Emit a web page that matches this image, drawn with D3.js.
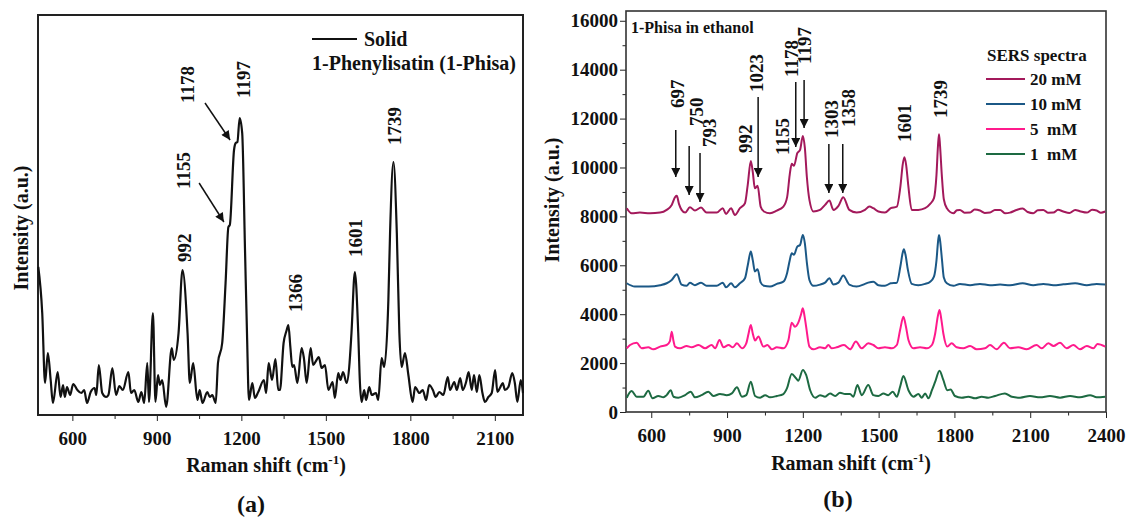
<!DOCTYPE html>
<meta charset="utf-8">
<title>Raman and SERS spectra of 1-Phisa</title>
<script src="https://cdn.jsdelivr.net/npm/d3@7"></script>
<style>
body { margin: 0; background: #fff; }
svg { display: block; }
text { font-family: "Liberation Serif", "Times New Roman", serif; font-weight: bold; fill: #111; }
.axis path, .axis line { stroke: #222; }
.axis text { font-size: 19px; }
</style>
<svg width="1126" height="518"></svg>
<script>
// ---- data ----
// (a) solid Raman spectrum: [shift cm-1, intensity a.u.]
var solid = [[479,37],[493,25.5],[503,8],[513,15.5],[523,8.75],[531,3],[548,10.75],[558,4.5],[567,7.5],[573,4.5],[581,7],[592,5],[603,7.75],[618,6.25],[632,5.5],[642,6.25],[652,3],[665,5.75],[679,6.75],[685,5],[694,12.5],[706,5.5],[720,4.5],[728,5],[742,11.75],[755,5],[767,7.25],[779,6.25],[799,10.75],[808,5.5],[820,6.25],[834,3.25],[845,5.75],[855,3],[866,13],[872,3.25],[886,25.5],[895,3.25],[904,10],[911,7.5],[919,8.75],[933,2],[953,16.75],[960,13.75],[977,20.5],[991,36.25],[1009,20.5],[1017,8],[1029,13],[1044,3.75],[1052,6.25],[1062,3],[1079,5.75],[1088,4.5],[1097,5],[1109,3],[1117,13],[1132,18],[1144,33],[1154,47],[1159,47.5],[1174,66.25],[1180,68],[1186,68.25],[1194,74.25],[1203,70.5],[1213,41.25],[1220,20.5],[1227,3.75],[1239,8],[1248,4.25],[1260,5.75],[1280,8.75],[1288,5.5],[1297,13],[1309,8.75],[1321,14],[1331,6.25],[1337,6.25],[1350,18],[1360,21],[1367,22.5],[1374,17],[1381,12],[1387,12.5],[1399,8],[1414,16.75],[1422,14.25],[1432,8],[1446,16.75],[1455,12.5],[1467,13.75],[1475,14.5],[1485,11.75],[1497,12.5],[1509,6.25],[1524,8.25],[1532,4.25],[1544,10.5],[1552,8.75],[1561,10.75],[1574,8],[1583,12],[1591,20.5],[1603,35.75],[1615,20.5],[1621,8],[1627,3.25],[1636,6.25],[1643,3.75],[1654,7],[1663,5],[1678,5.5],[1686,3.75],[1698,14.25],[1707,12],[1722,28.75],[1728,45.5],[1740,63.25],[1752,45.5],[1761,20.5],[1769,12],[1781,15.5],[1793,10],[1808,3.25],[1817,7],[1832,5.5],[1844,6.25],[1856,3.75],[1867,7.5],[1880,6.25],[1890,4.5],[1903,5.75],[1917,5],[1933,9.5],[1941,6.25],[1956,8.25],[1965,6.25],[1977,9.25],[1986,6.25],[1998,8.25],[2007,10.75],[2018,6.25],[2026,10],[2036,5.75],[2045,10],[2056,5.5],[2065,3.25],[2077,4.5],[2089,5.5],[2101,11.25],[2109,5.75],[2118,6.75],[2128,8],[2136,6.25],[2148,7],[2162,10.5],[2171,8],[2180,3.25],[2192,8.75],[2200,5.5]];

// (b) SERS spectra in ethanol: [shift cm-1, intensity a.u.]
var mM20 = [[503,8335],[522,8130],[555,8155],[595,8130],[635,8155],[661,8265],[681,8470],[695,8800],[701,8840],[710,8500],[720,8265],[734,8155],[753,8375],[773,8240],[797,8360],[819,8155],[859,8155],[883,8335],[896,8100],[916,8335],[931,8060],[951,8335],[971,8540],[982,9300],[994,10270],[1002,9800],[1010,9150],[1021,9250],[1033,8400],[1046,8200],[1070,8130],[1097,8240],[1123,8400],[1138,8800],[1148,9700],[1156,10150],[1165,10070],[1178,10585],[1189,10720],[1200,11290],[1208,10800],[1216,9600],[1226,8675],[1242,8200],[1268,8265],[1288,8470],[1305,8650],[1321,8265],[1341,8430],[1360,8785],[1384,8265],[1413,8155],[1446,8265],[1463,8400],[1479,8335],[1499,8200],[1525,8155],[1548,8335],[1572,8400],[1587,9300],[1595,10100],[1602,10420],[1609,10100],[1617,9300],[1631,8265],[1657,8265],[1684,8335],[1704,8510],[1719,8745],[1729,9700],[1735,10900],[1739,11360],[1743,10900],[1750,9700],[1758,8700],[1770,8335],[1796,8130],[1810,8250],[1822,8265],[1840,8150],[1862,8155],[1880,8280],[1901,8240],[1920,8140],[1941,8155],[1960,8260],[1981,8265],[2000,8130],[2020,8155],[2045,8260],[2070,8320],[2090,8180],[2112,8130],[2130,8250],[2152,8265],[2170,8150],[2192,8155],[2210,8270],[2231,8200],[2255,8140],[2278,8265],[2300,8200],[2324,8155],[2345,8270],[2363,8240],[2380,8150],[2397,8200]];
var mM10 = [[503,5265],[535,5130],[590,5130],[635,5185],[661,5265],[681,5400],[701,5630],[720,5210],[740,5160],[753,5290],[773,5185],[797,5290],[819,5160],[859,5160],[883,5290],[896,5100],[916,5265],[931,5100],[951,5265],[971,5470],[982,6000],[994,6560],[1002,6200],[1010,5750],[1021,5840],[1033,5300],[1046,5160],[1070,5130],[1097,5240],[1123,5330],[1138,5700],[1148,6200],[1156,6495],[1165,6430],[1178,6765],[1189,6830],[1200,7240],[1208,6900],[1216,6100],[1226,5400],[1242,5160],[1268,5210],[1288,5290],[1305,5470],[1321,5210],[1341,5290],[1360,5580],[1384,5210],[1413,5130],[1446,5240],[1459,5290],[1479,5330],[1499,5185],[1525,5160],[1548,5265],[1572,5290],[1586,5950],[1595,6500],[1600,6655],[1606,6450],[1616,5800],[1631,5240],[1657,5185],[1684,5240],[1704,5330],[1719,5535],[1729,6200],[1735,6950],[1739,7240],[1744,6950],[1751,6200],[1758,5500],[1770,5265],[1796,5160],[1822,5240],[1862,5185],[1901,5240],[1941,5185],[1981,5210],[2020,5185],[2070,5265],[2112,5185],[2152,5240],[2192,5185],[2231,5220],[2278,5265],[2324,5185],[2363,5240],[2397,5210]];
var mM5 = [[503,2605],[516,2740],[542,2835],[562,2605],[588,2645],[608,2565],[635,2675],[661,2740],[674,2900],[681,3285],[688,2900],[694,2675],[714,2605],[740,2700],[760,2645],[787,2740],[813,2605],[839,2740],[853,2605],[870,2945],[886,2645],[906,2740],[923,2645],[939,2810],[959,2605],[976,2810],[985,3200],[994,3560],[1002,3200],[1011,2920],[1024,3085],[1044,2675],[1060,2740],[1077,2565],[1097,2645],[1123,2605],[1143,2945],[1156,3655],[1169,3490],[1182,3655],[1193,4000],[1200,4240],[1207,3900],[1213,3490],[1226,2675],[1242,2565],[1268,2645],[1288,2605],[1301,2740],[1314,2605],[1334,2645],[1363,2740],[1387,2565],[1410,2880],[1433,2605],[1459,2810],[1479,2740],[1499,2605],[1525,2645],[1552,2605],[1572,2740],[1585,3355],[1598,3900],[1608,3500],[1618,2945],[1638,2605],[1664,2645],[1691,2605],[1711,2740],[1724,3220],[1734,3900],[1741,4175],[1748,3800],[1756,3220],[1772,2675],[1789,2810],[1809,2645],[1835,2605],[1862,2700],[1888,2565],[1921,2605],[1941,2740],[1967,2565],[1996,2835],[2020,2605],[2053,2645],[2086,2565],[2125,2740],[2145,2605],[2172,2810],[2192,2700],[2218,2835],[2244,2605],[2271,2740],[2297,2565],[2324,2700],[2350,2605],[2366,2780],[2397,2675]];
var mM1 = [[503,585],[522,860],[542,625],[569,625],[588,870],[605,560],[628,655],[648,600],[661,690],[677,890],[688,625],[707,585],[734,690],[756,830],[773,600],[799,690],[826,830],[846,655],[872,735],[899,690],[919,760],[939,1010],[959,625],[976,690],[994,1240],[1011,655],[1031,585],[1051,690],[1070,600],[1097,655],[1123,735],[1137,965],[1156,1555],[1173,1380],[1182,1280],[1200,1720],[1213,1515],[1229,890],[1249,585],[1268,690],[1288,625],[1308,760],[1328,655],[1347,790],[1367,735],[1387,735],[1400,625],[1416,1105],[1433,690],[1459,1105],[1479,690],[1499,655],[1519,760],[1538,690],[1556,830],[1572,625],[1585,1035],[1598,1475],[1618,890],[1638,625],[1657,735],[1671,585],[1684,760],[1697,560],[1711,890],[1724,1240],[1741,1690],[1756,1310],[1772,890],[1785,920],[1802,655],[1829,585],[1855,625],[1882,560],[1908,625],[1934,585],[1961,655],[2000,760],[2027,625],[2060,585],[2099,655],[2139,600],[2178,655],[2218,585],[2258,655],[2297,600],[2337,690],[2363,600],[2397,625]];

var seriesB = [mM20, mM10, mM5, mM1];
var seriesNames = ["20 mM", "10 mM", "5  mM", "1  mM"];
var seriesColors = ["#a3195b", "#1b5886", "#ff1a8c", "#1d6a42"];

var xTicksA = [600, 900, 1200, 1500, 1800, 2100];
var xTicksB = [600, 900, 1200, 1500, 1800, 2100, 2400];
var yTicksB = [0, 2000, 4000, 6000, 8000, 10000, 12000, 14000, 16000];

// peak labels: text, label x (shift), label bottom (intensity), arrow [x1,y1,x2,y2]
var peaksA = [
  ["992", 996, 38.25], ["1155", 993, 56.5, [1050, 58, 1138, 48.25]],
  ["1178", 1007, 78, [1071, 78, 1160, 68.75]], ["1197", 1206, 79.25],
  ["1366", 1390, 25.75], ["1601", 1604, 39.5], ["1739", 1742, 67.5]
];
var peaksB = [
  ["697", 702, 12433, [697, 11533, 697, 9611]],
  ["750", 777, 11697, [750, 10879, 750, 8875]],
  ["793", 829, 10838, [793, 10593, 793, 8589]],
  ["992", 971, 10593],
  ["1023", 1015, 13087, [1023, 12883, 1023, 9611]],
  ["1155", 1118, 10511],
  ["1178", 1153, 13701, [1172, 13496, 1172, 10838]],
  ["1197", 1205, 14233, [1205, 13578, 1205, 11615]],
  ["1303", 1311, 11206, [1303, 10961, 1303, 8957]],
  ["1358", 1379, 11656, [1358, 10961, 1358, 8957]],
  ["1601", 1600, 11042],
  ["1739", 1743, 12024]
];

var svg = d3.select("svg");

svg.append("defs").append("marker")
    .attr("id", "head")
    .attr("viewBox", "0 0 10 10")
    .attr("refX", 10).attr("refY", 5)
    .attr("markerWidth", 10).attr("markerHeight", 9)
    .attr("markerUnits", "userSpaceOnUse")
    .attr("orient", "auto")
  .append("path")
    .attr("d", "M0,0L10,5L0,10z")
    .attr("fill", "#111");

function minorTicks(lo, hi, step) {
  var t = [];
  for (var v = lo; v <= hi; v += step) t.push(v);
  return t;
}

function peakLabels(g, x, y, peaks) {
  peaks.forEach(function(p) {
    g.append("text")
        .attr("transform", "translate(" + x(p[1]) + "," + y(p[2]) + ") rotate(-90)")
        .attr("dy", "0.35em")
        .style("font-size", "19px")
        .text(p[0]);
    if (p[3]) {
      g.append("line")
          .attr("x1", x(p[3][0])).attr("y1", y(p[3][1]))
          .attr("x2", x(p[3][2])).attr("y2", y(p[3][3]))
          .attr("stroke", "#111").attr("stroke-width", 1.5)
          .attr("marker-end", "url(#head)");
    }
  });
}

function xTitle(x, y) {
  var t = svg.append("text")
      .attr("x", x).attr("y", y)
      .attr("text-anchor", "middle")
      .style("font-size", "20px")
      .text("Raman shift (cm");
  t.append("tspan").attr("dy", -8).style("font-size", "13px").text("-1");
  t.append("tspan").attr("dy", 8).text(")");
}

function yTitle(x, y) {
  svg.append("text")
      .attr("transform", "translate(" + x + "," + y + ") rotate(-90)")
      .attr("text-anchor", "middle")
      .style("font-size", "20px")
      .text("Intensity (a.u.)");
}

// ---------- panel (a) ----------
var xa = d3.scaleLinear().domain([478, 2200]).range([38, 523]),
    ya = d3.scaleLinear().domain([0, 100]).range([415, 15]);

svg.append("g")
    .attr("class", "axis")
    .attr("transform", "translate(0,415)")
    .call(d3.axisBottom(xa).tickValues(minorTicks(750, 2100, 300)).tickSize(4).tickFormat(""))
    .call(function(g) { g.select(".domain").remove(); });
svg.append("g")
    .attr("class", "axis")
    .attr("transform", "translate(0,415)")
    .call(d3.axisBottom(xa).tickValues(xTicksA).tickSize(6).tickPadding(11).tickFormat(d3.format("d")))
    .call(function(g) { g.select(".domain").remove(); });

svg.append("rect")
    .attr("x", 38).attr("y", 15).attr("width", 485).attr("height", 400)
    .attr("fill", "none").attr("stroke", "#222").attr("stroke-width", 2);

var lineA = d3.line().x(function(d) { return xa(d[0]); }).y(function(d) { return ya(d[1]); })
    .curve(d3.curveMonotoneX);
svg.append("path").datum(solid)
    .attr("d", lineA)
    .attr("fill", "none").attr("stroke", "#111").attr("stroke-width", 2.2)
    .attr("stroke-linejoin", "round");

peakLabels(svg.append("g"), xa, ya, peaksA);

svg.append("line").attr("x1", 312).attr("x2", 357).attr("y1", 39).attr("y2", 39)
    .attr("stroke", "#111").attr("stroke-width", 2);
svg.append("text").attr("x", 364).attr("y", 46).style("font-size", "20px").text("Solid");
svg.append("text").attr("x", 312).attr("y", 70).style("font-size", "20px").text("1-Phenylisatin (1-Phisa)");

xTitle(266, 472);
yTitle(28, 228);
svg.append("text").attr("x", 251).attr("y", 512).attr("text-anchor", "middle")
    .style("font-size", "24px").text("(a)");

// ---------- panel (b) ----------
var xb = d3.scaleLinear().domain([500, 2400]).range([626, 1106]),
    yb = d3.scaleLinear().domain([0, 16400]).range([412, 11]);

svg.append("g")
    .attr("class", "axis")
    .attr("transform", "translate(0,412)")
    .call(d3.axisBottom(xb).tickValues(minorTicks(750, 2250, 300)).tickSize(3.5).tickFormat(""))
    .call(function(g) { g.select(".domain").remove(); });
svg.append("g")
    .attr("class", "axis")
    .attr("transform", "translate(0,412)")
    .call(d3.axisBottom(xb).tickValues(xTicksB).tickSize(6).tickPadding(11).tickFormat(d3.format("d")))
    .call(function(g) { g.select(".domain").remove(); });
svg.append("g")
    .attr("class", "axis")
    .attr("transform", "translate(626,0)")
    .call(d3.axisLeft(yb).tickValues(minorTicks(1000, 15000, 2000)).tickSize(3.5).tickFormat(""))
    .call(function(g) { g.select(".domain").remove(); });
svg.append("g")
    .attr("class", "axis")
    .attr("transform", "translate(626,0)")
    .call(d3.axisLeft(yb).tickValues(yTicksB).tickSize(6).tickPadding(2).tickFormat(d3.format("d")))
    .call(function(g) { g.select(".domain").remove(); });

svg.append("rect")
    .attr("x", 626).attr("y", 11).attr("width", 480).attr("height", 401)
    .attr("fill", "none").attr("stroke", "#333").attr("stroke-width", 1.6);

var lineB = d3.line().x(function(d) { return xb(d[0]); }).y(function(d) { return yb(d[1]); })
    .curve(d3.curveMonotoneX);
svg.append("g").selectAll("path")
  .data(seriesB)
  .enter().append("path")
    .attr("d", lineB)
    .attr("fill", "none")
    .attr("stroke", function(d, i) { return seriesColors[i]; })
    .attr("stroke-width", 2)
    .attr("stroke-linejoin", "round");

peakLabels(svg.append("g"), xb, yb, peaksB);

svg.append("text").attr("x", 631).attr("y", 33).style("font-size", "16px").text("1-Phisa in ethanol");

var leg = svg.append("g");
leg.append("text").attr("x", 987).attr("y", 61).style("font-size", "17px").text("SERS spectra");
seriesNames.forEach(function(name, i) {
  var yy = 79 + i * 25;
  leg.append("line").attr("x1", 986).attr("x2", 1025).attr("y1", yy).attr("y2", yy)
      .attr("stroke", seriesColors[i]).attr("stroke-width", 2);
  leg.append("text").attr("x", 1030).attr("y", yy + 6).style("font-size", "17px")
      .style("white-space", "pre").text(name);
});

xTitle(851, 470);
yTitle(559, 200);
svg.append("text").attr("x", 838).attr("y", 507).attr("text-anchor", "middle")
    .style("font-size", "24px").text("(b)");
</script>
</html>
